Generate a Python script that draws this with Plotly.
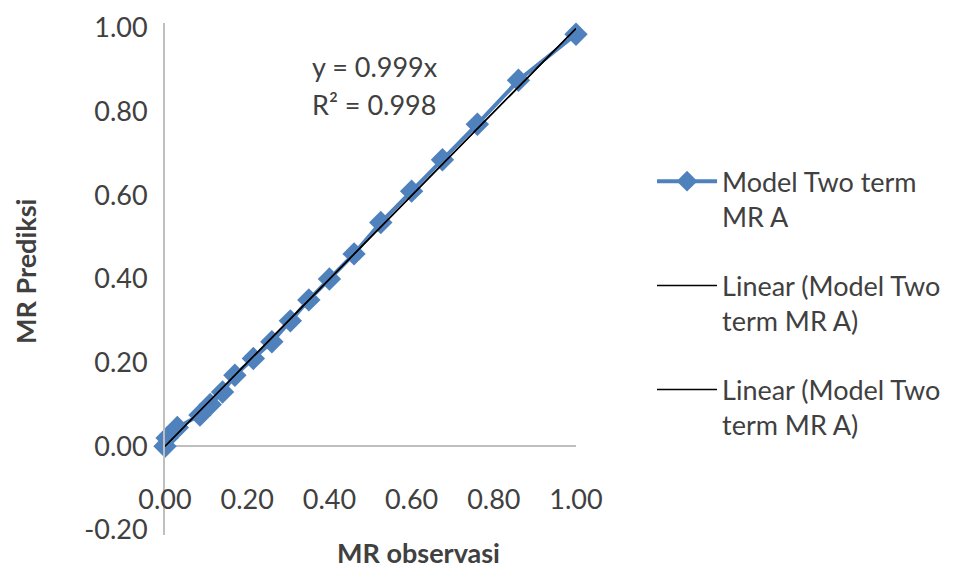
import plotly.graph_objects as go

# ---- data ----
mr_obs = [0.00, 0.005, 0.03, 0.085, 0.11, 0.14, 0.17, 0.215, 0.26, 0.305,
          0.35, 0.40, 0.46, 0.525, 0.60, 0.675, 0.76, 0.86, 1.00]
mr_pred = [0.00, 0.02, 0.045, 0.075, 0.10, 0.13, 0.17, 0.21, 0.25, 0.30,
           0.35, 0.40, 0.46, 0.535, 0.61, 0.685, 0.77, 0.875, 0.985]
slope = 0.999
r2 = 0.998
series_name = "Model Two term<br>MR A"
trend_name = "Linear (Model Two<br>term MR A)"
x_ticks = [0.0, 0.2, 0.4, 0.6, 0.8, 1.0]
y_ticks = [-0.2, 0.0, 0.2, 0.4, 0.6, 0.8, 1.0]
x_tick_labels = [f"{v:.2f}" for v in x_ticks]
y_tick_labels = [f"{v:.2f}" for v in y_ticks]

FONT = "Lato, 'Open Sans', sans-serif"
TXT = "#404040"
BLUE = "#4F81BD"
AXIS = "#BFBFBF"
FS = 27

trend_x = [min(mr_obs), max(mr_obs)]
trend_y = [slope * v for v in trend_x]

fig = go.Figure()
fig.add_trace(go.Scatter(
    x=mr_obs, y=mr_pred, mode="lines+markers", name=series_name,
    line=dict(color=BLUE, width=4),
    marker=dict(symbol="diamond", size=18, color=BLUE),
    cliponaxis=False, legendgroup="a"))
for g in ["b", "c"]:
    fig.add_trace(go.Scatter(
        x=trend_x, y=trend_y, mode="lines", name=trend_name,
        line=dict(color="#000000", width=1.5), cliponaxis=False,
        legendgroup=g))

fig.update_layout(
    width=960, height=571,
    margin=dict(l=165, r=384, t=23, b=36, autoexpand=False),
    paper_bgcolor="white", plot_bgcolor="white",
    font=dict(family=FONT, size=FS, color=TXT),
    showlegend=True,
    legend=dict(x=1.185, y=0.738, xanchor="left", yanchor="top",
                valign="top", itemwidth=60, tracegroupgap=31,
                font=dict(family=FONT, size=FS, color=TXT),
                bgcolor="rgba(0,0,0,0)"),
    xaxis=dict(range=[0, 1.0], tickvals=x_ticks, ticktext=x_tick_labels,
               showgrid=False, zeroline=False, showline=False,
               anchor="free", position=0.105, ticks="",
               tickfont=dict(size=FS, color=TXT)),
    yaxis=dict(range=[-0.212, 1.012], tickvals=y_ticks, ticktext=y_tick_labels,
               showgrid=False, zeroline=True, zerolinecolor=AXIS,
               zerolinewidth=2, showline=True, linecolor=AXIS, linewidth=2,
               ticks="", ticklabelstandoff=10,
               tickfont=dict(size=FS, color=TXT)),
    annotations=[
        dict(x=0.352, y=0.907, xref="x", yref="y", xanchor="left",
             yanchor="middle", showarrow=False,
             text=f"y = {slope:.3f}x", font=dict(size=FS, color=TXT)),
        dict(x=0.352, y=0.816, xref="x", yref="y", xanchor="left",
             yanchor="middle", showarrow=False,
             text=f"R² = {r2:.3f}", font=dict(size=FS, color=TXT)),
        dict(x=0.616, y=-0.035, xref="paper", yref="paper",
             xanchor="center", yanchor="middle", showarrow=False,
             text="<b>MR observasi</b>", font=dict(size=FS, color=TXT)),
        dict(x=-0.338, y=0.514, xref="paper", yref="paper",
             xanchor="center", yanchor="middle", showarrow=False,
             textangle=-90,
             text="<b>MR Prediksi</b>", font=dict(size=FS, color=TXT)),
    ],
)

fig.write_html("out.html")
